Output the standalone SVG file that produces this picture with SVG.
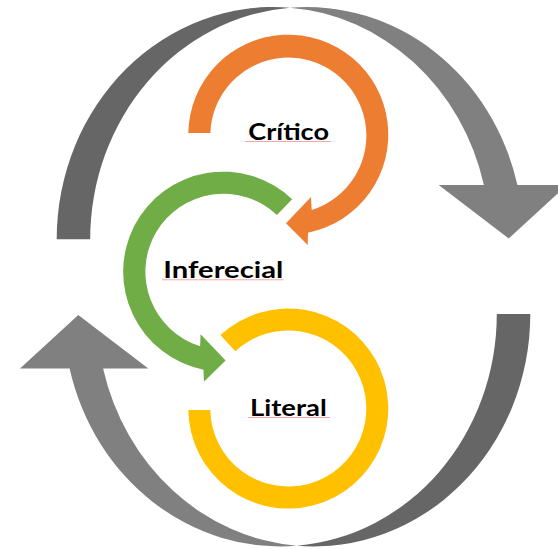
<svg xmlns="http://www.w3.org/2000/svg" width="558" height="549" viewBox="0 0 558 549">
  <style>
    .dark { fill: #666666; }
    .light { fill: #808080; }
    .orange { fill: #ED7D31; }
    .green { fill: #70AD47; }
    .yellow { fill: #FFC000; }
    .label { font-family: "Lato", "Open Sans", "Liberation Sans", sans-serif; font-weight: bold; font-size: 22px; fill: #000000; }
    .squiggle { stroke: #F2A7A7; stroke-width: 1; fill: none; }
  </style>
  <rect width="558" height="549" fill="#FFFFFF"/>
  <g id="connectors">
    <g id="cycle-top">
      <path class="dark" d="M 56.7 239.3 A 216.6 232.3 0 0 1 290.05 7.7 A 216.6 232.3 0 0 0 90.2 239.3 Z"/>
      <path class="light" d="M 290.05 7.7 A 216.6 232.3 0 0 1 517.4 185 L 567 185 L 508.7 238.4 L 438.7 185 L 483.9 185 A 216.6 232.3 0 0 0 290.05 7.7 Z"/>
    </g>
    <g id="cycle-bottom">
      <path class="dark" d="M 530.3 314.1 A 216.6 232.3 0 0 1 296.95 545.7 A 216.6 232.3 0 0 0 496.8 314.1 Z"/>
      <path class="light" d="M 296.95 545.7 A 216.6 232.3 0 0 1 69.6 368.4 L 20 368.4 L 78.3 315 L 148.3 368.4 L 103.1 368.4 A 216.6 232.3 0 0 0 296.95 545.7 Z"/>
    </g>
  </g>
  <g id="node-critico">
    <path class="orange" d="M 188.3 133 A 100 100 0 1 1 308 232.7 L 307.7 245 L 286 223.3 L 311 197 L 311.7 210 A 78 78 0 1 0 210.4 133 Z"/>
    <text class="label" x="248.3" y="140" textLength="80.7" lengthAdjust="spacingAndGlyphs">Crítico</text>
    <line class="squiggle" x1="245" y1="141.5" x2="331" y2="141.5"/>
  </g>
  <g id="node-inferecial">
    <path class="green" d="M 292.1 199.2 A 100 100 0 1 0 203.5 369.7 L 203.9 381.7 L 225.6 360.4 L 200.6 334.2 L 200.1 346.2 A 78 78 0 1 1 277 215.1 Z"/>
    <text class="label" x="163.3" y="278.3" textLength="120" lengthAdjust="spacingAndGlyphs">Inferecial</text>
    <line class="squiggle" x1="162" y1="279.8" x2="283.5" y2="279.8"/>
  </g>
  <g id="node-literal">
    <path class="yellow" d="M 188.3 410 A 100 100 0 1 0 220.4 335.1 L 235.4 351.2 A 78 78 0 1 1 210.3 410 Z"/>
    <text class="label" x="250" y="415.7" textLength="76.7" lengthAdjust="spacingAndGlyphs">Literal</text>
    <line class="squiggle" x1="248" y1="417.5" x2="330" y2="417.5"/>
  </g>
</svg>
